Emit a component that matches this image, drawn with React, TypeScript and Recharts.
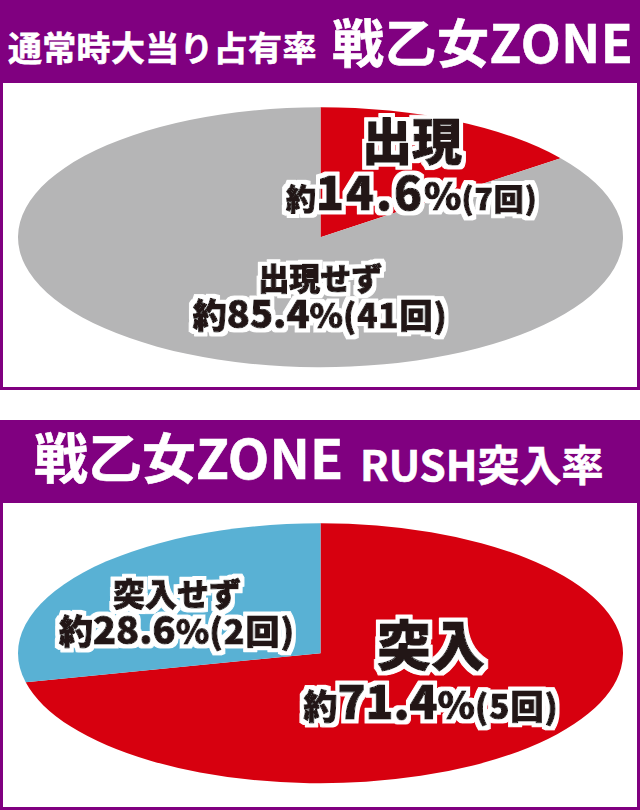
import { PieChart, Pie, Cell } from 'recharts';

// 通常時大当り占有率
const appearNames = ['出現', '出現せず'];
const appearRates = [14.6, 85.4];
const appearCounts = [7, 41];

// RUSH突入率
const rushNames = ['突入', '突入せず'];
const rushRates = [71.4, 28.6];
const rushCounts = [5, 2];

const PURPLE = '#800080';
const INK = '#231815';
const FONT = '"Noto Sans CJK JP", "Noto Sans CJK SC", sans-serif';

const R = 302.5; // horizontal radius
const RY = 130; // vertical radius of the squashed pie
const K = RY / R;
const SVG_H = 606;

type LabelStyle = {
  f: number; dx: number; b1: number; b2: number;
  name: number; pre: number; num: number; pct: number; post: number; spacing: number;
};

const appearLabels: LabelStyle[] = [
  { f: 0.63, dx: 7, b1: -4, b2: 46, name: 50, pre: 30, num: 46, pct: 38, post: 30, spacing: 2 },
  { f: 0.45, dx: 60, b1: 0, b2: 38, name: 31, pre: 34, num: 38, pct: 34, post: 33, spacing: 0 },
];
const rushLabels: LabelStyle[] = [
  { f: 0.45, dx: 4, b1: -24, b2: 29, name: 54, pre: 34, num: 46, pct: 38, post: 33, spacing: 0 },
  { f: 0.6, dx: -1.5, b1: 1, b2: 39, name: 32, pre: 34, num: 38, pct: 34, post: 34, spacing: 0 },
];

function makeLabel(names: string[], counts: number[], styles: LabelStyle[]) {
  return (props: any) => {
    const { cx, cy, midAngle, index, value } = props;
    const s = styles[index];
    const rad = (-midAngle * Math.PI) / 180;
    const d = R * s.f;
    const x = cx + d * Math.cos(rad) + s.dx;
    const y = cy + d * Math.sin(rad);
    const base: any = {
      fill: INK,
      stroke: INK,
      strokeWidth: 1.1,
      strokeLinejoin: 'round',
      fontFamily: FONT,
      fontWeight: 900,
      textAnchor: 'middle',
    };
    return (
      <g transform={`translate(${x},${y}) scale(1,${1 / K})`}>
        <g filter="url(#white-outline)">
          <text {...base} x={0} y={s.b1} fontSize={s.name}>{names[index]}</text>
          <text {...base} x={0} y={s.b2}>
            <tspan fontSize={s.pre}>約</tspan>
            <tspan fontSize={s.num} letterSpacing={s.spacing}>{value.toFixed(1)}</tspan>
            <tspan fontSize={s.pct}>%</tspan>
            <tspan fontSize={s.post} letterSpacing={1}>({counts[index]}回)</tspan>
          </text>
        </g>
      </g>
    );
  };
}

function OvalPie({ names, rates, counts, colors, styles, centerY }: any) {
  const data = names.map((n: string, i: number) => ({ name: n, value: rates[i] }));
  return (
    <div
      style={{
        position: 'absolute',
        left: 0,
        top: centerY - (SVG_H / 2) * K,
        width: 640,
        height: SVG_H,
        transform: `scaleY(${K})`,
        transformOrigin: '0 0',
      }}
    >
      <PieChart width={640} height={SVG_H} margin={{ top: 0, right: 0, bottom: 0, left: 0 }}>
        <Pie
          data={data}
          dataKey="value"
          cx={320.5}
          cy={SVG_H / 2}
          outerRadius={R}
          startAngle={90}
          endAngle={-270}
          stroke="none"
          label={makeLabel(names, counts, styles)}
          labelLine={false}
          isAnimationActive={false}
        >
          {data.map((_: any, i: number) => (
            <Cell key={i} fill={colors[i]} />
          ))}
        </Pie>
      </PieChart>
    </div>
  );
}

const headerText: any = { fill: '#fff', stroke: '#fff', strokeWidth: 0.6, fontFamily: FONT, fontWeight: 700 };

export default function App() {
  return (
    <div style={{ position: 'absolute', left: 0, top: 0, width: 640, height: 810, background: '#fff', overflow: 'hidden' }}>
      <style>{'.recharts-surface, .recharts-wrapper { overflow: visible !important; }'}</style>
      <svg width={0} height={0} style={{ position: 'absolute' }}>
        <defs>
          <filter id="white-outline" x="-20%" y="-40%" width="140%" height="180%">
            <feMorphology in="SourceAlpha" operator="dilate" radius={3.5} result="fat" />
            <feFlood floodColor="#fff" />
            <feComposite in2="fat" operator="in" result="edge" />
            <feMerge>
              <feMergeNode in="edge" />
              <feMergeNode in="SourceGraphic" />
            </feMerge>
          </filter>
        </defs>
      </svg>
      <div style={{ position: 'absolute', left: 0, top: 0, width: 640, height: 80, background: PURPLE }}>
        <svg width={640} height={80} style={{ overflow: 'visible' }}>
          <text {...headerText} x={8} y={61} fontSize={34} letterSpacing={0.3}>通常時大当り占有率</text>
          <text {...headerText} x={332} y={63} fontSize={52} letterSpacing={0.5}>戦乙女ZONE</text>
        </svg>
      </div>
      <div style={{ position: 'absolute', left: 0, top: 80, width: 640, height: 310, boxSizing: 'border-box', border: `3px solid ${PURPLE}` }} />
      <OvalPie
        names={appearNames}
        rates={appearRates}
        counts={appearCounts}
        colors={['#d7000f', '#b5b5b6']}
        styles={appearLabels}
        centerY={237.5}
      />

      <div style={{ position: 'absolute', left: 0, top: 420, width: 640, height: 80, background: PURPLE }}>
        <svg width={640} height={80} style={{ overflow: 'visible' }}>
          <text {...headerText} x={34} y={59} fontSize={54}>戦乙女ZONE</text>
          <text {...headerText} x={360} y={61} fontSize={42}>RUSH突入率</text>
        </svg>
      </div>
      <div style={{ position: 'absolute', left: 0, top: 500, width: 640, height: 310, boxSizing: 'border-box', border: `3px solid ${PURPLE}` }} />
      <OvalPie
        names={rushNames}
        rates={rushRates}
        counts={rushCounts}
        colors={['#d7000f', '#59b1d4']}
        styles={rushLabels}
        centerY={653.5}
      />
    </div>
  );
}
